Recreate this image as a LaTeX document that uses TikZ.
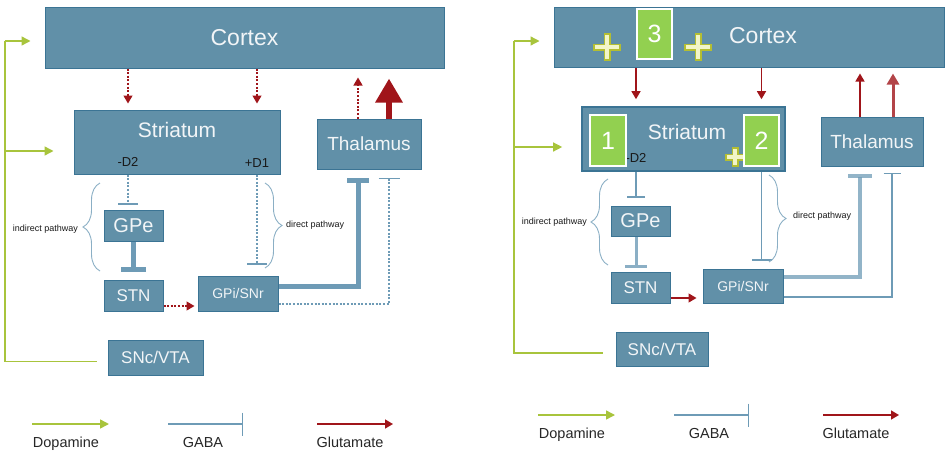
\documentclass[tikz,border=0pt]{standalone}
\usepackage{fontspec}
\setmainfont{Liberation Sans}
\usetikzlibrary{arrows.meta,calc,decorations.pathreplacing}
\definecolor{boxfill}{HTML}{6190A8}
\definecolor{boxline}{HTML}{3B7494}
\definecolor{boxtext}{HTML}{F2F5F7}
\definecolor{gabacol}{HTML}{6E9BB6}
\definecolor{dopacol}{HTML}{A8C43C}
\definecolor{glucol}{HTML}{A0151A}
\definecolor{numgreen}{HTML}{92D050}
\definecolor{olivemark}{HTML}{B4BE32}
\definecolor{palemark}{HTML}{F2F5C8}
\newcommand\fsz[1]{\fontsize{#1}{#1}\selectfont}
\newcommand\plusmark[3]{% centre x, centre y, half size
  \draw[olivemark,line width=7] ($(#1,#2)+(-#3,0)$) -- ($(#1,#2)+(#3,0)$)
                                ($(#1,#2)+(0,-#3)$) -- ($(#1,#2)+(0,#3)$);
  \draw[palemark,line width=3.4] ($(#1,#2)+(-#3+1.8,0)$) -- ($(#1,#2)+(#3-1.8,0)$)
                                 ($(#1,#2)+(0,-#3+1.8)$) -- ($(#1,#2)+(0,#3-1.8)$);}
\newcommand\legendrow[1]{
  \coordinate (dopaA#1) at (32,424);  \coordinate (dopaB#1) at (109,424);
  \coordinate (gabaA#1) at (168,424); \coordinate (gabaB#1) at (243,424);
  \coordinate (gluA#1) at (317,424);  \coordinate (gluB#1) at (393,424);
  \draw[dopa] (dopaA#1) -- (dopaB#1);
  \draw[gaba,line width=1.5,-{Bar[width=23]}] (gabaA#1) -- (gabaB#1);
  \draw[glu,line width=1.5] (gluA#1) -- (gluB#1);
  \node[legtext] (dopaTxt#1) at (66,447) {Dopamine};
  \node[legtext] (gabaTxt#1) at (203,447) {GABA};
  \node[legtext] (gluTxt#1) at (350,447) {Glutamate};}

\begin{document}
\begin{tikzpicture}[x=1pt,y=-1pt,
  region/.style={draw=boxline,line width=1,fill=boxfill,text=boxtext,inner sep=0},
  numbox/.style={draw=white,line width=1.3,fill=numgreen,text=white,inner sep=0,font=\fsz{25}},
  dopa/.style={dopacol,line width=1.5,-{Triangle[length=9,width=9]}},
  glu/.style={glucol,line width=1.3,-{Triangle[length=8,width=9]}},
  gaba/.style={gabacol,line width=1.2},
  dotline/.style={dash pattern=on 2pt off 1.6pt},
  dlabel/.style={font=\fsz{13},text=black!90,inner sep=0},
  legtext/.style={font=\fsz{14.5},text=black!85,inner sep=0,anchor=base},
  note/.style={font=\fsz{9},text=black!90,inner sep=0},
  pathbrace/.style={gabacol!80,line width=0.9,decorate,decoration={brace,amplitude=17}}]
\useasboundingbox (0,0) rectangle (945,450);

% ---- left panel
\node[region,minimum width=399,minimum height=61,font=\fsz{23}] (cortexL) at (244.5,37.5) {Cortex};
\node[region,minimum width=206,minimum height=64] (striatumL) at (177,142) {};
\node[text=boxtext,inner sep=0,font=\fsz{21}] (striatumTxtL) at (177,130) {Striatum};
\node[dlabel] (d2L) at (128,162) {-D2};
\node[dlabel] (d1L) at (257,163) {+D1};
\node[region,minimum width=104,minimum height=50,font=\fsz{19}] (thalL) at (369,144) {Thalamus};
\node[region,minimum width=59,minimum height=31,font=\fsz{20}] (gpeL) at (133.5,225.5) {GPe};
\node[region,minimum width=59,minimum height=31,font=\fsz{17}] (stnL) at (133.5,295.5) {STN};
\node[region,minimum width=80,minimum height=35,font=\fsz{14}] (gpiL) at (238,293.5) {GPi/SNr};
\node[region,minimum width=95,minimum height=35,font=\fsz{17}] (sncL) at (155.5,357.5) {SNc/VTA};

\draw[glu,dotline,shorten >=6] (d2L |- cortexL.south) -- (d2L |- striatumL.north);
\draw[glu,dotline,shorten >=6] (d1L |- cortexL.south) -- (d1L |- striatumL.north);
\draw[glu,dotline,shorten >=9] ([xshift=-11]thalL.north) -- ([xshift=-11]thalL.north |- cortexL.south);
\draw[glucol,line width=6,-{Triangle[length=24,width=26]},shorten >=10]
  ([xshift=20]thalL.north) -- ([xshift=20]thalL.north |- cortexL.south);
\draw[gaba,dotline,-{Bar[width=20]},shorten >=5] (d2L |- striatumL.south) -- (d2L |- gpeL.north);
\draw[gaba,dotline,-{Bar[width=20]},shorten >=11] (d1L |- striatumL.south) -- (d1L |- gpiL.north);
\draw[gaba,line width=5,-{Bar[width=25]},shorten >=8] (gpeL.south) -- (stnL.north);
\draw[glu,dotline,shorten >=3] ([yshift=-10.5]stnL.east) -- ([yshift=-10.5]stnL.east -| gpiL.west);
\draw[gaba,line width=5,-{Bar[width=22]},shorten >=8] ([yshift=7.5]gpiL.east) -| ([xshift=-11]thalL.south);
\draw[gaba,dotline,-{Bar[width=21]},shorten >=8] ([yshift=-10.5]gpiL.east) -| ([xshift=20]thalL.south);

\coordinate (spineL) at (5,41);
\draw[dopacol,line width=1.5] ([xshift=-11,yshift=-4]sncL.west) -| (spineL);
\draw[dopa,shorten >=14] (spineL) -- (spineL -| cortexL.west);
\draw[dopa,shorten >=20] ([yshift=-9]striatumL.west -| spineL) -- ([yshift=-9]striatumL.west);

\draw[pathbrace] (100,271) -- (100,183);
\node[note,anchor=east] (indirTxtL) at (78,229) {indirect pathway};
\draw[pathbrace] (265,183) -- (265,268);
\node[note,anchor=west] (dirTxtL) at (286,225) {direct pathway};

% ---- right panel
\node[region,minimum width=390,minimum height=60] (cortexR) at (749,37) {};
\node[text=boxtext,inner sep=0,font=\fsz{23}] (cortexTxtR) at (763,36) {Cortex};
\plusmark{607}{47}{14}
\plusmark{698}{47}{14}
\node[numbox,minimum width=35,minimum height=50] (sq3) at (654.5,34) {3};
\node[region,line width=1.6,minimum width=203,minimum height=64] (striatumR) at (683.5,139) {};
\node[text=boxtext,inner sep=0,font=\fsz{21}] (striatumTxtR) at (687,132) {Striatum};
\node[dlabel] (d2R) at (636,158) {-D2};
\node[numbox,minimum width=36,minimum height=51] (sq1) at (608,140.5) {1};
\plusmark{735}{157}{10}
\node[numbox,minimum width=35,minimum height=51] (sq2) at (761.5,140.5) {2};
\node[region,minimum width=102,minimum height=49,font=\fsz{19}] (thalR) at (872,141.5) {Thalamus};
\node[region,minimum width=59,minimum height=30,font=\fsz{20}] (gpeR) at (640.5,221) {GPe};
\node[region,minimum width=59,minimum height=31,font=\fsz{17}] (stnR) at (640.5,287.5) {STN};
\node[region,minimum width=80,minimum height=34,font=\fsz{14}] (gpiR) at (743,286) {GPi/SNr};
\node[region,minimum width=92,minimum height=34,font=\fsz{17}] (sncR) at (662,349) {SNc/VTA};

\draw[glu,shorten >=7] (d2R |- cortexR.south) -- (d2R |- striatumR.north);
\draw[glu,shorten >=7] (sq2 |- cortexR.south) -- (sq2 |- striatumR.north);
\draw[glu,shorten >=6] ([xshift=-12]thalR.north) -- ([xshift=-12]thalR.north |- cortexR.south);
\draw[glucol!80,line width=3,-{Triangle[length=11,width=12]},shorten >=6]
  ([xshift=21]thalR.north) -- ([xshift=21]thalR.north |- cortexR.south);
\draw[gaba,-{Bar[width=18]},shorten >=8] (d2R |- striatumR.south) -- (d2R |- gpeR.north);
\draw[gaba,line width=3,opacity=.8,-{Bar[width=22]},shorten >=4] (d2R |- gpeR.south) -- (d2R |- stnR.north);
\draw[gaba,-{Bar[width=20]},shorten >=8] (sq2 |- striatumR.south) -- (sq2 |- gpiR.north);
\draw[glu,shorten >=6] ([yshift=-10.5]stnR.east) -- ([yshift=-10.5]stnR.east -| gpiR.west);
\draw[gaba,line width=4,opacity=.75,-{Bar[width=24]},shorten >=7] ([yshift=9]gpiR.east) -| ([xshift=-12]thalR.south);
\draw[gaba,-{Bar[width=17]},shorten >=6] ([yshift=-11]gpiR.east) -| ([xshift=20]thalR.south);

\coordinate (spineR) at (514,41);
\draw[dopacol,line width=1.3] ([xshift=-13,yshift=-4]sncR.west) -| (spineR);
\draw[dopa,line width=1.3,shorten >=14] (spineR) -- (spineR -| cortexR.west);
\draw[dopa,line width=1.3,shorten >=19] ([yshift=-8]striatumR.west -| spineR) -- ([yshift=-8]striatumR.west);

\draw[pathbrace] (608,265) -- (608,179);
\node[note,anchor=east] (indirTxtR) at (587,222) {indirect pathway};
\draw[pathbrace] (769,175) -- (769,262);
\node[note,anchor=west] (dirTxtR) at (793,216) {direct pathway};

% ---- legends
\begin{scope}
  \legendrow{L}
\end{scope}
\begin{scope}[shift={(506,-9)}]
  \legendrow{R}
\end{scope}
\end{tikzpicture}
\end{document}
